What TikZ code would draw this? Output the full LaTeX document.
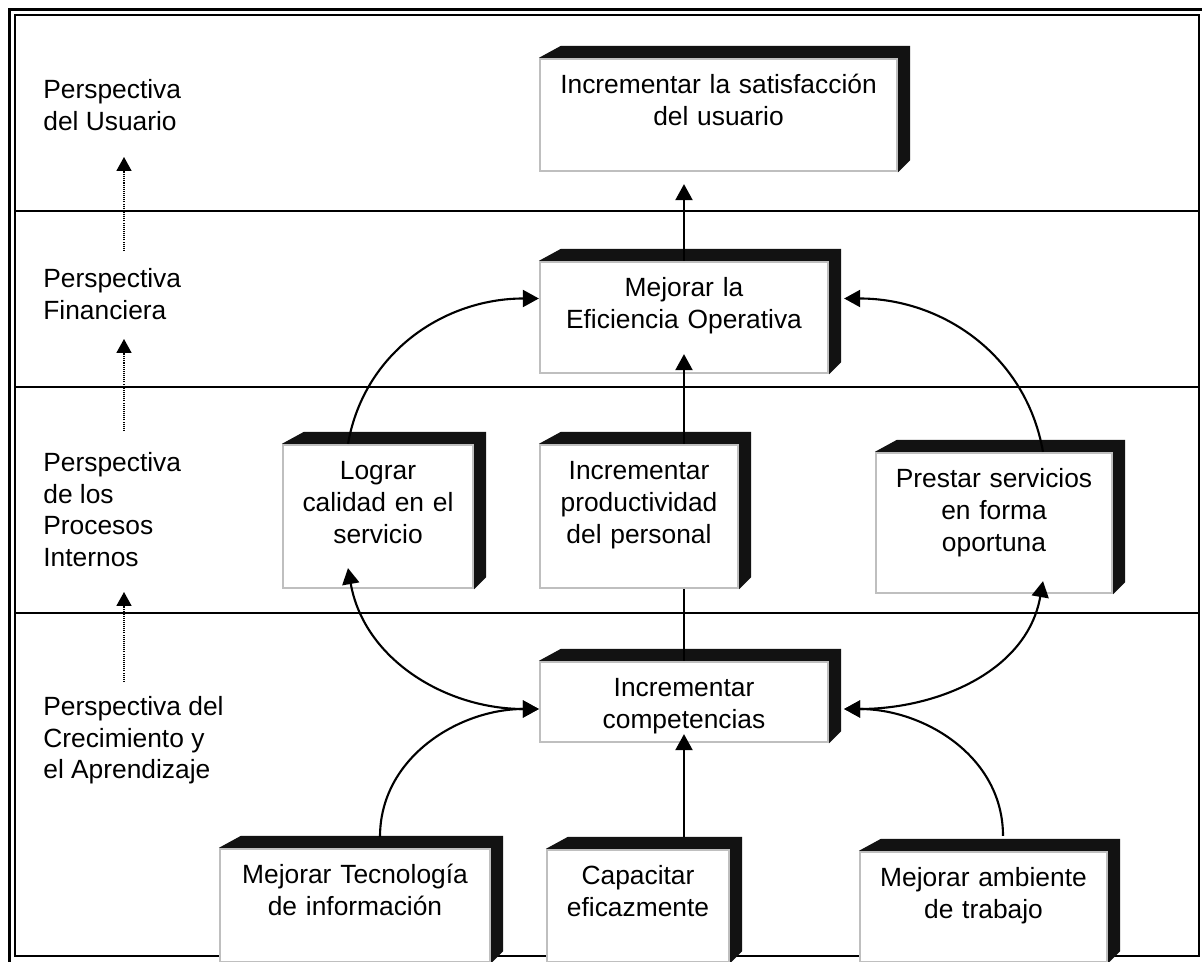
\documentclass[tikz,border=0pt]{standalone}
\usepackage{fontspec}
\setmainfont{Liberation Sans}
\usetikzlibrary{arrows.meta,backgrounds}
\newcommand{\boxfont}{\fontsize{15}{18}\selectfont}

\begin{document}
\begin{tikzpicture}[
    % Box and line styles
    objbox/.style={draw=black!25, line width=1.3pt, fill=white, inner xsep=0pt, inner ysep=0pt,
        align=center, text height=0.70cm, text depth=#1, font=\boxfont},
    objbox/.default=1.5cm,
    extrude/.style={fill=black!93},
    persp/.style={anchor=north west, inner sep=0pt, align=left, font=\boxfont},
    sepline/.style={line width=1.1pt},
    plainline/.style={line width=1.2pt},
    arr/.style={-{Triangle[length=0.32cm, width=0.34cm]}, line width=1.2pt},
    dblarr/.style={{Triangle[length=0.32cm, width=0.34cm]}-{Triangle[length=0.32cm, width=0.34cm]}, line width=1.2pt},
    dotarrow/.style={-{Triangle[length=0.28cm, width=0.3cm]}, line width=1pt, dash pattern=on 0.6pt off 0.6pt}
]
\useasboundingbox (0,0) rectangle (24.04,19.22);

% 1. Perspective labels (left column)
\node[persp] (usu)  at (0.86,17.64) {Perspectiva\\del Usuario};
\node[persp] (fin)  at (0.86,13.86) {Perspectiva\\Financiera};
\node[persp] (proc) at (0.86,10.18) {Perspectiva\\de los\\Procesos\\Internos};
\node[persp] (cre)  at (0.86,5.30)  {Perspectiva del\\Crecimiento y\\el Aprendizaje};

% 2. Objective boxes
\node[objbox=1.54cm, text width=7.14cm] (sat) at (14.37,16.92) {Incrementar la satisfacción\\del usuario};
\node[objbox=1.52cm, text width=5.76cm] (efi) at (13.68,12.87) {Mejorar la\\Eficiencia Operativa};
\node[objbox=2.16cm, text width=3.80cm] (log) at (7.56,8.89)   {Lograr\\calidad en el\\servicio};
\node[objbox=2.16cm, text width=3.96cm] (pro) at (12.78,8.89)  {Incrementar\\productividad\\del personal};
\node[objbox=2.10cm, text width=4.72cm] (pre) at (19.88,8.76)  {Prestar servicios\\en forma\\oportuna};
\node[objbox=0.90cm, text width=5.76cm] (com) at (13.68,5.18)  {Incrementar\\competencias};
\node[objbox=1.56cm, text width=5.40cm] (tec) at (7.10,1.11)   {Mejorar Tecnología\\de información};
\node[objbox=1.54cm, text width=3.64cm] (cap) at (12.76,1.10)  {Capacitar\\eficazmente};
\node[objbox=1.50cm, text width=4.94cm] (amb) at (19.67,1.08)  {Mejorar ambiente\\de trabajo};

% 3. Frame, row lines and 3D sides (behind the boxes)
\begin{scope}[on background layer]
  \draw[line width=1.8pt] (0.19,-0.5) -- (0.19,19.03) -- (24.5,19.03);
  \draw[line width=1.4pt] (0.30,0.10) rectangle (23.98,18.92);
  \draw[sepline] (0.30,15.00) -- (23.98,15.00);
  \draw[sepline] (0.30,11.48) -- (23.98,11.48);
  \draw[sepline] (0.30,6.96) -- (23.98,6.96);
  \foreach \nm in {sat,efi,log,pro,pre,com,tec,cap,amb}
    \fill[extrude] (\nm.north west) -- ([shift={(0.44,0.24)}]\nm.north west)
      -- ([shift={(0.24,0.24)}]\nm.north east) -- ([shift={(0.24,0.24)}]\nm.south east)
      -- (\nm.south east) -- cycle;
\end{scope}

% 4. Dotted arrows between perspectives
\draw[dotarrow] ([shift={(1.62,0.34)}]fin.north west) -- ([shift={(1.62,-1.56)}]usu.north west);
\draw[dotarrow] ([shift={(1.62,0.42)}]proc.north west) -- ([shift={(1.62,-1.42)}]fin.north west);
\draw[dotarrow] ([shift={(1.62,0.28)}]cre.north west) -- ([shift={(1.62,-2.80)}]proc.north west);

% 5. Straight connectors
\draw[arr, shorten >=0.24cm] (efi.north) -- (efi.north |- sat.south);
\draw[arr, shorten >=-0.40cm] (efi.south |- pro.north) -- (efi.south);
\draw[plainline] (com.north) -- (com.north |- pro.south);
\draw[arr, shorten <=0.24cm, shorten >=-0.18cm] (com.south |- cap.north) -- (com.south);

% 6. Curved connectors
\draw[arr] ([xshift=-0.6cm]log.north) to[out=80, in=180] ([yshift=0.38cm]efi.west);
\draw[arr] ([xshift=0.98cm]pre.north) to[out=100, in=0] ([xshift=0.3cm, yshift=0.38cm]efi.east);
\draw[dblarr] ([xshift=-0.6cm, yshift=0.42cm]log.south) to[out=-80, in=180] ([yshift=-0.14cm]com.west);
\draw[dblarr] ([xshift=0.98cm, yshift=0.26cm]pre.south) to[out=-100, in=0] ([xshift=0.3cm, yshift=-0.14cm]com.east);
\draw[arr] ([xshift=0.5cm, yshift=0.22cm]tec.north) to[out=90, in=180] ([yshift=-0.14cm]com.west);
\draw[arr] ([xshift=0.39cm, yshift=0.3cm]amb.north) to[out=90, in=0] ([xshift=0.3cm, yshift=-0.14cm]com.east);

\end{tikzpicture}
\end{document}
